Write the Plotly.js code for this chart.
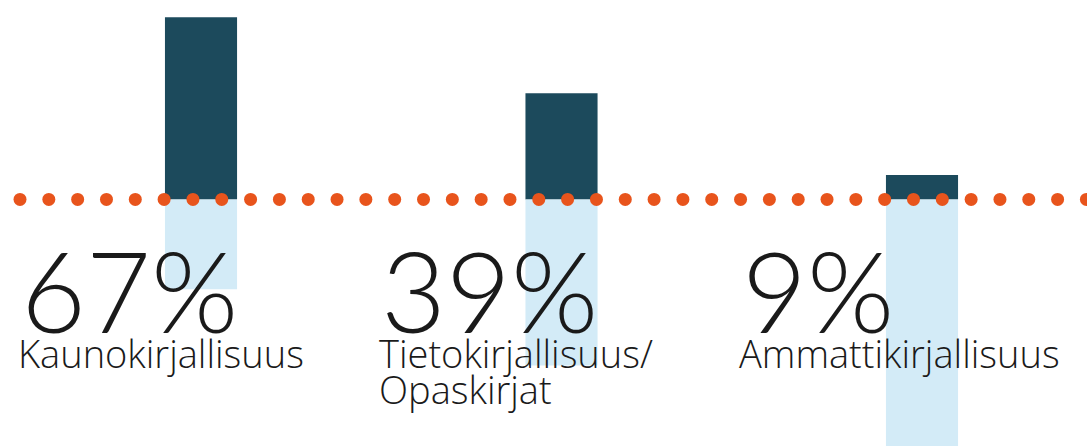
<!DOCTYPE html>
<html><head><meta charset="utf-8">
<script src="https://cdn.plot.ly/plotly-3.0.1.min.js"></script>
<style>html,body{margin:0;padding:0;background:#fff}#c{width:1087px;height:446px}</style>
</head><body><div id="c"></div>
<script>
const categories = ["Kaunokirjallisuus", "Tietokirjallisuus/<br>Opaskirjat", "Ammattikirjallisuus"];
const shareYes = [67, 39, 9];
const shareRest = [33, 61, 91];
const pctLabels = ["67%", "39%", "9%"];

const idx = categories.map((_, i) => i);
const traces = [
  {type: 'bar', x: idx, y: shareYes, width: 0.2, marker: {color: '#1c4a5c'}, hoverinfo: 'skip'},
  {type: 'bar', x: idx, y: shareRest.map(v => -v), width: 0.2, marker: {color: '#d3ebf7'}, hoverinfo: 'skip'}
];
// decorative dotted baseline
const dotX = [];
for (let k = 0; k < 38; k++) dotX.push(k);
traces.push({type: 'scatter', mode: 'markers', x: dotX, y: dotX.map(() => 0), xaxis: 'x2',
  marker: {color: '#e8541c', size: 13}, hoverinfo: 'skip'});

const ann = [];
idx.forEach(i => {
  ann.push({xref: 'x', yref: 'paper', x: i - 0.506, y: 0.352, xanchor: 'left', yanchor: 'middle',
    text: pctLabels[i], showarrow: false, font: {family: 'Lato', size: 112, color: '#1a1a1a', weight: 300}});
  categories[i].split('<br>').forEach((line, j) => {
    ann.push({xref: 'x', yref: 'paper', x: i - 0.512, y: 0.272 - j * 0.081, xanchor: 'left', yanchor: 'top', align: 'left',
      text: line, showarrow: false, font: {family: 'Open Sans', size: 38, color: '#1a1a1a', weight: 300}});
  });
});

const layout = {
  width: 1087, height: 446, margin: {l: 0, r: 0, t: 0, b: 0},
  paper_bgcolor: '#fff', plot_bgcolor: '#fff', showlegend: false, barmode: 'relative',
  xaxis: {range: [-0.5576, 2.4577], visible: false, fixedrange: true},
  xaxis2: {range: [-0.694, 37.02], overlaying: 'x', visible: false},
  yaxis: {range: [-90.6, 73.3], visible: false, zeroline: false},
  annotations: ann
};
Plotly.newPlot('c', traces, layout, {staticPlot: true});
</script></body></html>
